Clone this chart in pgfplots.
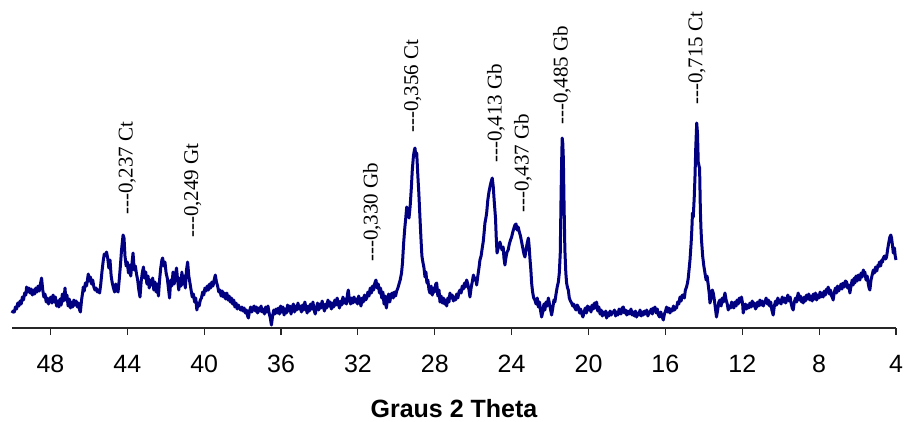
\documentclass[border=0pt]{standalone}
\usepackage{pgfplots}
\pgfplotsset{compat=1.18}
\usepackage{fontspec}
\setmainfont{Liberation Sans}
\newfontfamily\seriffont{Liberation Serif}
\definecolor{navy}{RGB}{0,0,128}
\pgfplotstableread{
x y
50.00 15
49.94 17
49.88 16
49.82 21
49.76 19
49.70 25
49.64 22
49.58 27
49.52 24
49.46 31
49.40 28
49.34 35
49.28 33
49.24 41
49.18 36
49.12 40
49.06 35
49.00 39
48.94 33
48.88 38
48.82 34
48.76 40
48.70 36
48.64 42
48.58 37
48.52 44
48.46 50
48.40 38
48.34 31
48.28 34
48.22 26
48.16 30
48.10 24
48.04 28
47.98 31
47.92 25
47.86 33
47.80 26
47.74 31
47.68 22
47.62 27
47.56 21
47.50 29
47.44 23
47.38 34
47.32 27
47.26 36
47.24 40
47.20 28
47.14 33
47.08 22
47.02 29
46.96 20
46.90 26
46.84 21
46.78 28
46.72 23
46.66 27
46.60 21
46.54 25
46.48 18
46.44 16
46.38 28
46.32 36
46.29 41
46.24 37
46.18 45
46.12 42
46.06 50
46.03 54
45.98 47
45.92 51
45.86 44
45.80 48
45.74 41
45.68 38
45.62 40
45.56 36
45.50 38
45.44 35
45.38 44
45.32 56
45.26 66
45.20 74
45.14 72
45.08 76
45.02 70
44.96 60
44.90 68
44.84 52
44.78 45
44.72 40
44.66 36
44.60 44
44.54 38
44.48 36
44.42 48
44.36 62
44.30 78
44.22 93
44.17 90
44.12 72
44.06 62
44.00 66
43.94 55
43.88 63
43.82 52
43.76 64
43.70 75
43.64 58
43.58 62
43.52 54
43.46 48
43.40 38
43.34 31
43.28 46
43.22 55
43.16 61
43.10 50
43.04 56
42.98 44
42.92 52
42.86 40
42.80 48
42.74 43
42.68 50
42.62 38
42.56 46
42.50 36
42.44 44
42.38 32
42.32 48
42.26 60
42.20 68
42.16 70
42.10 62
42.04 66
41.98 55
41.92 50
41.86 40
41.80 30
41.74 48
41.68 42
41.62 56
41.56 44
41.50 52
41.44 60
41.38 48
41.32 38
41.26 50
41.20 42
41.16 56
41.10 44
41.04 52
40.98 40
40.92 58
40.86 66
40.80 52
40.74 45
40.68 38
40.62 31
40.56 34
40.50 26
40.44 30
40.38 18
40.32 25
40.26 22
40.20 28
40.14 30
40.08 36
40.02 33
39.96 40
39.90 37
39.84 42
39.78 38
39.72 44
39.66 40
39.60 46
39.54 42
39.48 48
39.42 53
39.36 46
39.30 42
39.24 36
39.18 38
39.12 32
39.06 37
39.00 31
38.94 35
38.88 29
38.82 35
38.76 28
38.70 32
38.64 26
38.58 30
38.52 24
38.46 28
38.40 21
38.34 25
38.28 19
38.22 23
38.16 20
38.10 18
38.04 21
37.98 17
37.92 20
37.86 15
37.80 18
37.74 12
37.70 10
37.64 17
37.58 21
37.52 16
37.46 20
37.40 22
37.34 17
37.28 21
37.22 15
37.16 20
37.10 17
37.04 22
36.98 16
36.92 19
36.86 14
36.80 21
36.74 16
36.68 22
36.62 15
36.56 10
36.50 3
36.44 12
36.38 18
36.32 14
36.26 19
36.20 15
36.14 20
36.08 14
36.02 22
35.96 16
35.90 21
35.84 13
35.78 19
35.72 15
35.66 23
35.60 17
35.54 22
35.48 14
35.42 20
35.36 24
35.30 16
35.24 22
35.18 18
35.12 25
35.06 19
35.00 22
34.94 16
34.88 23
34.82 18
34.76 26
34.70 20
34.64 15
34.58 22
34.52 17
34.46 24
34.40 19
34.34 26
34.28 18
34.22 14
34.16 20
34.10 25
34.04 18
33.98 24
33.92 20
33.86 27
33.80 21
33.74 17
33.68 24
33.62 20
33.56 28
33.50 22
33.44 26
33.38 19
33.32 25
33.26 21
33.20 28
33.14 23
33.08 30
33.02 24
32.96 20
32.90 27
32.84 23
32.78 31
32.72 25
32.66 29
32.60 24
32.54 34
32.50 38
32.44 28
32.38 24
32.32 30
32.26 25
32.20 31
32.14 26
32.08 29
32.02 24
31.96 32
31.90 27
31.84 22
31.78 30
31.72 26
31.66 33
31.60 28
31.54 30
31.48 36
31.42 32
31.36 40
31.30 35
31.24 42
31.18 38
31.12 45
31.06 48
31.00 40
30.94 44
30.88 35
30.82 40
30.76 30
30.70 36
30.64 24
30.58 32
30.52 20
30.46 28
30.40 34
30.34 26
30.28 33
30.22 35
30.16 30
30.10 36
30.04 32
29.98 37
29.92 40
29.86 44
29.80 48
29.73 55
29.68 65
29.62 85
29.56 100
29.51 110
29.46 121
29.40 115
29.34 110
29.28 122
29.22 140
29.17 158
29.11 172
29.06 178
29.03 180
28.99 172
28.94 175
28.88 152
28.83 135
28.77 110
28.72 90
28.67 72
28.62 66
28.56 60
28.51 51
28.46 56
28.41 45
28.36 48
28.30 38
28.25 35
28.19 42
28.13 33
28.07 40
28.01 36
27.95 44
27.90 45
27.84 32
27.78 38
27.73 26
27.67 32
27.61 25
27.55 30
27.49 24
27.43 28
27.38 22
27.32 30
27.26 26
27.21 35
27.15 30
27.09 33
27.03 27
26.97 31
26.92 28
26.86 34
26.80 30
26.74 36
26.69 38
26.63 35
26.57 42
26.51 39
26.45 45
26.40 41
26.34 48
26.28 44
26.22 38
26.17 31
26.11 40
26.05 46
25.99 53
25.93 48
25.87 50
25.82 43
25.76 52
25.70 60
25.65 68
25.59 72
25.53 80
25.48 86
25.43 96
25.39 105
25.34 110
25.30 115
25.24 128
25.18 136
25.13 141
25.07 146
25.01 150
24.96 142
24.90 125
24.84 110
24.80 90
24.76 75
24.70 80
24.64 84
24.61 86
24.56 82
24.50 78
24.44 81
24.40 70
24.35 63
24.30 70
24.24 76
24.18 78
24.12 84
24.06 88
24.00 91
23.94 96
23.88 100
23.83 103
23.77 104
23.72 98
23.66 101
23.60 96
23.54 92
23.48 86
23.42 80
23.36 74
23.31 71
23.25 78
23.19 85
23.13 90
23.09 82
23.05 70
23.00 58
22.96 45
22.91 36
22.85 30
22.79 28
22.73 24
22.67 30
22.61 21
22.55 26
22.50 18
22.44 11
22.38 16
22.32 24
22.27 18
22.21 26
22.15 22
22.09 30
22.03 24
21.97 18
21.92 13
21.86 20
21.80 28
21.75 26
21.69 34
21.63 41
21.57 46
21.52 55
21.47 75
21.43 130
21.40 165
21.37 190
21.34 185
21.31 170
21.27 120
21.23 78
21.18 55
21.14 45
21.09 40
21.05 38
21.00 30
20.94 27
20.88 25
20.82 22
20.77 24
20.71 20
20.65 18
20.59 23
20.53 21
20.47 15
20.41 19
20.35 14
20.29 11
20.23 16
20.17 20
20.11 15
20.05 22
19.99 18
19.93 21
19.87 16
19.81 23
19.75 19
19.69 25
19.63 20
19.58 26
19.52 17
19.46 21
19.40 14
19.34 18
19.28 12
19.22 16
19.16 13
19.10 17
19.06 10
19.00 15
18.94 12
18.88 17
18.82 13
18.76 16
18.71 15
18.65 18
18.59 12
18.53 16
18.47 13
18.41 19
18.37 16
18.31 14
18.25 20
18.19 21
18.13 15
18.07 18
18.01 13
17.95 17
17.89 14
17.85 15
17.79 19
17.73 13
17.67 16
17.61 12
17.56 17
17.50 11
17.44 15
17.38 13
17.32 18
17.26 12
17.20 16
17.15 13
17.09 17
17.03 14
16.97 18
16.91 12
16.85 16
16.80 15
16.74 19
16.68 14
16.62 20
16.56 18
16.54 21
16.48 15
16.42 19
16.36 13
16.30 11
16.24 16
16.18 12
16.11 8
16.05 14
15.99 17
15.94 21
15.88 16
15.82 20
15.76 15
15.70 19
15.64 17
15.58 22
15.52 18
15.46 21
15.42 20
15.36 26
15.30 24
15.24 31
15.18 27
15.12 33
15.07 33
15.01 30
14.96 38
14.90 41
14.85 45
14.81 50
14.76 60
14.72 68
14.66 85
14.62 100
14.59 115
14.55 111
14.50 130
14.46 151
14.42 180
14.37 205
14.33 195
14.29 166
14.25 162
14.22 160
14.18 118
14.15 100
14.12 88
14.06 72
14.00 62
13.94 55
13.88 48
13.83 52
13.77 43
13.72 35
13.68 25
13.62 30
13.56 38
13.51 35
13.45 28
13.40 20
13.34 11
13.28 18
13.22 26
13.16 28
13.10 22
13.04 30
12.98 26
12.93 32
12.90 35
12.84 28
12.78 24
12.73 18
12.67 22
12.61 20
12.55 26
12.50 23
12.44 20
12.38 26
12.32 22
12.27 28
12.21 24
12.15 30
12.09 26
12.04 31
11.98 24
11.95 15
11.89 20
11.84 24
11.78 19
11.72 23
11.66 20
11.60 25
11.54 21
11.48 27
11.43 22
11.37 25
11.31 19
11.26 21
11.20 26
11.14 22
11.08 28
11.02 23
10.96 27
10.90 22
10.85 26
10.82 25
10.76 30
10.70 24
10.64 28
10.58 22
10.52 26
10.46 18
10.42 15
10.39 13
10.33 22
10.27 27
10.21 23
10.15 30
10.09 25
10.04 28
9.98 24
9.92 31
9.86 26
9.80 30
9.74 25
9.69 28
9.63 33
9.57 27
9.51 31
9.45 24
9.40 20
9.35 18
9.29 26
9.23 30
9.17 26
9.12 32
9.09 35
9.03 28
8.97 32
8.91 26
8.86 30
8.83 25
8.77 31
8.71 27
8.65 33
8.59 29
8.54 34
8.48 28
8.42 32
8.36 27
8.30 34
8.24 29
8.19 35
8.13 28
8.07 33
8.01 30
7.95 36
7.90 31
7.84 35
7.79 31
7.73 37
7.67 33
7.61 39
7.57 36
7.53 41
7.47 34
7.41 38
7.35 32
7.30 30
7.27 28
7.21 36
7.15 40
7.10 35
7.04 42
6.98 37
6.92 40
6.86 44
6.81 39
6.75 45
6.69 41
6.63 47
6.57 46
6.52 40
6.46 43
6.40 35
6.34 42
6.28 48
6.23 43
6.17 50
6.14 45
6.08 52
6.02 47
5.96 53
5.91 49
5.88 48
5.82 55
5.76 51
5.70 58
5.65 54
5.62 56
5.56 48
5.50 52
5.44 44
5.40 40
5.36 38
5.30 48
5.24 53
5.18 58
5.12 55
5.06 61
5.00 57
4.94 63
4.92 61
4.86 66
4.80 62
4.74 68
4.70 66
4.66 70
4.60 72
4.54 69
4.49 71
4.44 78
4.38 85
4.32 91
4.27 93
4.23 90
4.18 82
4.14 75
4.08 80
4.04 72
4.00 68
}\xrd
\begin{document}
\begin{tikzpicture}
\begin{axis}[
  name=ax,
  width=884pt, height=328pt, scale only axis,
  xmin=4, xmax=50, x dir=reverse,
  ymin=0, ymax=328,
  axis x line*=bottom, axis y line=none,
  x axis line style={black!85, line width=1.3pt},
  xtick={4,8,...,48},
  tick align=outside,
  major tick length=7pt,
  xtick style={black!85, line width=1.1pt},
  /pgf/number format/assume math mode=true,
  xticklabel style={font=\fontsize{25}{28}\selectfont, inner sep=0pt, yshift=-20pt},
  xlabel={\bfseries Graus 2 Theta},
  xlabel style={at={(axis description cs:0.5,0)}, anchor=north, inner sep=0pt, yshift=-71pt, font=\fontsize{25}{28}\selectfont},
  clip=false,
]
\addplot[navy, line width=3pt, line join=round, mark=none] table[x=x, y=y] {\xrd};
\begin{scope}[every node/.style={rotate=90, anchor=west, inner sep=0pt, font=\seriffont\fontsize{21}{24}\selectfont}]
\node at (axis cs:44.00,113) {-{}-{}-0,237 Ct};
\node at (axis cs:40.60,90) {-{}-{}-0,249 Gt};
\node at (axis cs:31.27,66) {-{}-{}-0,330 Gb};
\node at (axis cs:29.14,195) {-{}-{}-0,356 Ct};
\node at (axis cs:24.82,165) {-{}-{}-0,413 Gb};
\node at (axis cs:23.41,115) {-{}-{}-0,437 Gb};
\node at (axis cs:21.38,203) {-{}-{}-0,485 Gb};
\node at (axis cs:14.36,223) {-{}-{}-0,715 Ct};
\end{scope}
\end{axis}
\pgfresetboundingbox
\path[use as bounding box] ([shift={(-12pt,-93pt)}]ax.south west) rectangle ([shift={(8pt,0pt)}]ax.north east);
\end{tikzpicture}
\end{document}
